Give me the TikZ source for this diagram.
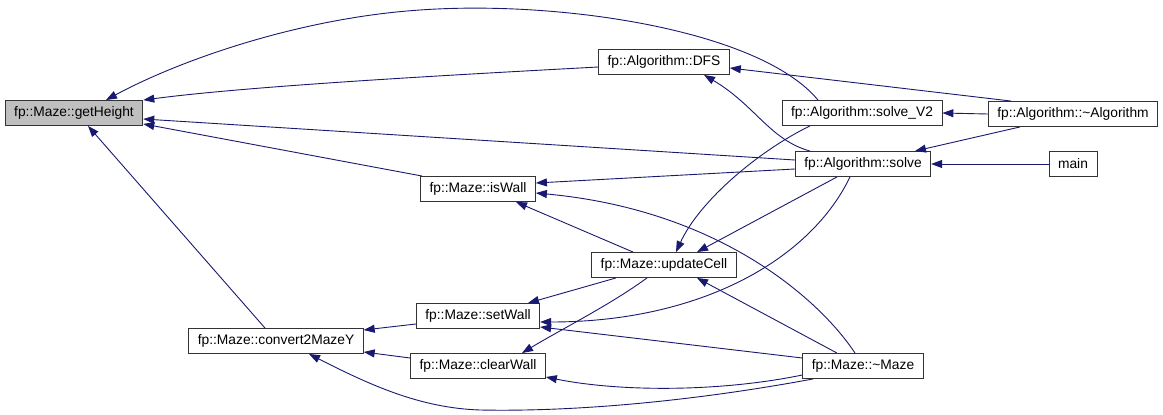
\documentclass[tikz,border=0pt]{standalone}
\usepackage{fontspec}
\setmainfont{Liberation Sans}
\usepackage{tikz}
\usetikzlibrary{arrows.meta}
\definecolor{edgeblue}{HTML}{191970}
\definecolor{focusgray}{HTML}{BFBFBF}
\tikzset{
  fnbox/.style={draw=black!80, line width=0.9pt, fill=white,
                minimum height=25pt, inner xsep=9pt, inner ysep=0pt,
                font=\fontsize{13.8}{16}\selectfont},
  callarr/.style={-{Triangle[length=11pt,width=8pt]}, edgeblue, line width=0.9pt}
}

\begin{document}
\begin{tikzpicture}[x=1pt, y=-1pt]
  \useasboundingbox (0,0) rectangle (1163,415);

  \node[fnbox, fill=focusgray] (getHeight) at (74,113) {fp::Maze::getHeight};
  \node[fnbox] (convert) at (276,341) {fp::Maze::convert2MazeY};
  \node[fnbox] (isWall) at (478,189) {fp::Maze::isWall};
  \node[fnbox] (setWall) at (478,316) {fp::Maze::setWall};
  \node[fnbox] (clearWall) at (478,366) {fp::Maze::clearWall};
  \node[fnbox] (DFS) at (664,62) {fp::Algorithm::DFS};
  \node[fnbox] (updateCell) at (664,265) {fp::Maze::updateCell};
  \node[fnbox] (solveV2) at (862,113) {fp::Algorithm::solve\_V2};
  \node[fnbox] (solve) at (863,164) {fp::Algorithm::solve};
  \node[fnbox] (dtorMaze) at (863,366) {fp::Maze::\textasciitilde Maze};
  \node[fnbox] (dtorAlg) at (1073,114) {fp::Algorithm::\textasciitilde Algorithm};
  \node[fnbox] (main) at (1073,164) {main};

  % callers of getHeight
  \draw[callarr] ([xshift=-44pt]solveV2.north) .. controls (760,30) and (560,0) .. (420,10)
                 .. controls (300,18) and (180,60) .. ([xshift=32pt]getHeight.north);
  \draw[callarr] ([yshift=-5pt]DFS.west) .. controls (450,75) and (250,86) .. (getHeight.north east);
  \draw[callarr] ([yshift=4pt]solve.west) -- ([yshift=-6pt]getHeight.east);
  \draw[callarr] ([xshift=2pt]isWall.north west) -- ([yshift=2pt]getHeight.south east);
  \draw[callarr] ([xshift=-11pt]convert.north) -- ([xshift=14pt]getHeight.south);

  \draw[callarr] ([xshift=-62pt]dtorAlg.north) -- ([yshift=-6pt]DFS.east);
  \draw[callarr] ([xshift=-53pt]solve.north) .. controls (770,140) and (755,105) .. ([xshift=40pt]DFS.south);
  \draw[callarr] (dtorAlg.west) -- (solveV2.east);
  \draw[callarr] ([xshift=-53pt]dtorAlg.south) -- ([xshift=52pt]solve.north);
  \draw[callarr] (main.west) -- (solve.east);

  \draw[callarr] ([yshift=-5pt]solve.west) -- ([yshift=6pt]isWall.east);
  \draw[callarr] ([xshift=-31pt]updateCell.north) -- ([xshift=38pt]isWall.south);
  \draw[callarr] ([xshift=-8pt]dtorMaze.north) .. controls (820,300) and (720,210) .. ([yshift=-4pt]isWall.east);

  \draw[callarr] ([xshift=-52pt]solveV2.south) .. controls (760,150) and (700,200) .. ([xshift=12pt]updateCell.north);
  \draw[callarr] ([xshift=-26pt]solve.south) -- ([xshift=33pt]updateCell.north);
  \draw[callarr] ([xshift=-26pt]dtorMaze.north) -- ([xshift=33pt]updateCell.south);

  \draw[callarr] ([xshift=-48pt]updateCell.south) -- ([xshift=50pt]setWall.north);
  \draw[callarr] ([xshift=-13pt]solve.south) .. controls (810,260) and (700,322) .. ([yshift=-6pt]setWall.east);
  \draw[callarr] ([yshift=8pt]dtorMaze.west) -- ([yshift=-11pt]setWall.east);

  \draw[callarr] ([xshift=-17pt]updateCell.south) .. controls (610,305) and (560,330) .. ([xshift=44pt]clearWall.north);
  \draw[callarr] ([yshift=-9pt]dtorMaze.west) .. controls (720,392) and (620,392) .. ([yshift=-11pt]clearWall.east);

  \draw[callarr] ([yshift=-8pt]setWall.west) -- ([yshift=11pt]convert.east);
  \draw[callarr] ([yshift=8pt]clearWall.west) -- ([yshift=-11pt]convert.east);
  \draw[callarr] ([xshift=-50pt]dtorMaze.south) .. controls (700,400) and (580,412) .. (480,410)
                 .. controls (420,408) and (370,385) .. ([xshift=33pt]convert.south);
\end{tikzpicture}
\end{document}
